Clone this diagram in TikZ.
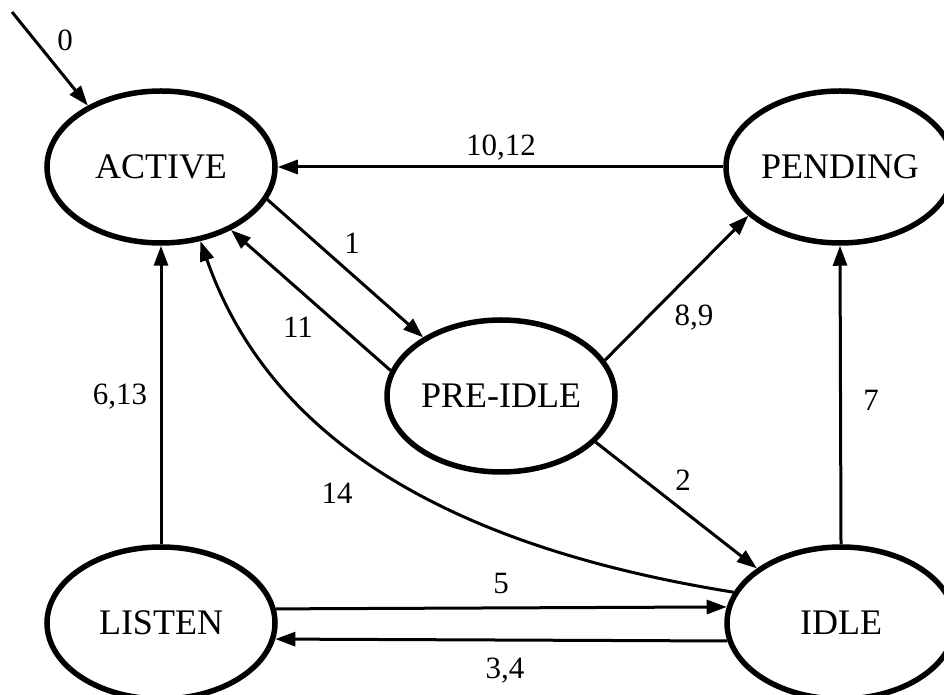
\documentclass[tikz,border=0pt]{standalone}
\usepackage{fontspec}
\setmainfont{Liberation Serif}
\usetikzlibrary{arrows.meta,shapes.geometric}

\begin{document}
\begin{tikzpicture}[x=1pt, y=1pt,
    %Option for nice arrows
    >={Triangle[length=20pt,width=14pt]}, %
    state/.style={draw, ellipse, line width=5.5pt, minimum width=228pt, minimum height=152pt,
        inner sep=0pt, font=\fontsize{36}{40}\selectfont},
    trans/.style={line width=3pt,->},
    lbl/.style={inner sep=0pt, font=\fontsize{31}{36}\selectfont},
]
    \clip (0,0) rectangle (944,695);

    % States
    \node[state] (active)  at (161,528) {ACTIVE};
    \node[state] (pending) at (840,528) {PENDING};
    \node[state] (preidle) at (501,299) {PRE-IDLE};
    \node[state] (listen)  at (161,72)  {LISTEN};
    \node[state] (idle)    at (841,72)  {IDLE};
    \coordinate (init) at (12,683);

    % Transitions
    \draw[trans] (init) -- (active.140);
    \draw[trans] (pending.west) -- (active.east);
    \draw[trans] (active.-17) -- (preidle.143);
    \draw[trans] (preidle.167) -- (active.-42);
    \draw[trans] (idle.164) .. controls (439,150) and (268,261) .. (active.-62);
    \draw[trans] (listen.north) -- (active.south);
    \draw[trans] (preidle.19.6) -- (pending.208);
    \draw[trans] (idle.north) -- (pending.south);
    \draw[trans] (preidle.-26.6) -- (idle.147.4);
    \draw[trans] (listen.7.1) -- (idle.172.9);
    \draw[trans] (idle.-171.8) -- (listen.-8.2);

    % Labels
    \node[lbl] (l0)    at (65,655)  {0};
    \node[lbl] (l1012) at (501,547) {10,12};
    \node[lbl] (l1)    at (352,452) {1};
    \node[lbl] (l11)   at (298,368) {11};
    \node[lbl] (l89)   at (694,377) {8,9};
    \node[lbl] (l613)  at (120,298) {6,13};
    \node[lbl] (l7)    at (871,295) {7};
    \node[lbl] (l14)   at (337,202) {14};
    \node[lbl] (l2)    at (683,215) {2};
    \node[lbl] (l5)    at (501,111) {5};
    \node[lbl] (l34)   at (505,24)  {3,4};
\end{tikzpicture}
\end{document}
